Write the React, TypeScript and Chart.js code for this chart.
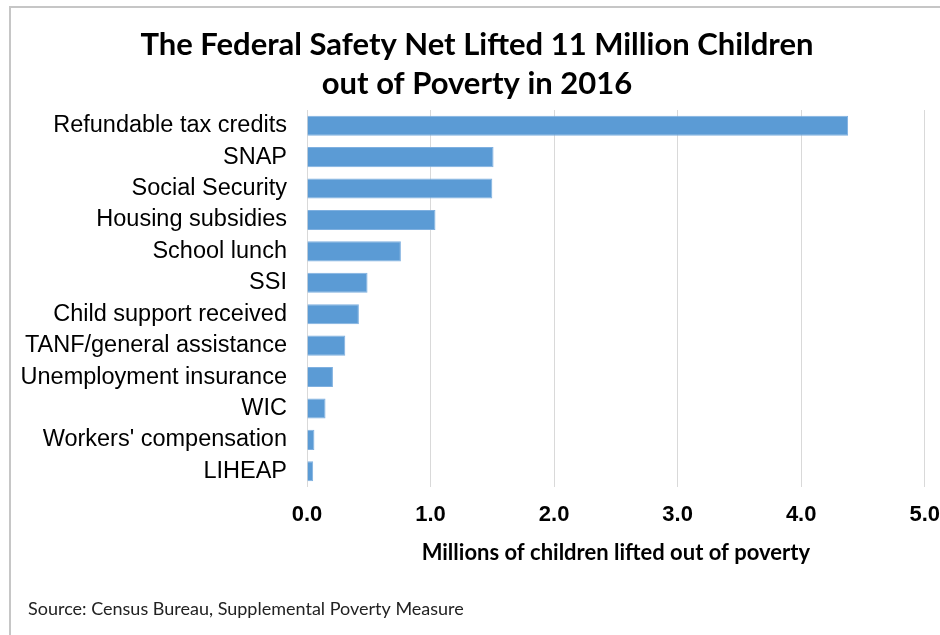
import React, { useEffect, useRef } from "react";
import { Chart, registerables } from "chart.js";

Chart.register(...registerables);

const titleLines = ["The Federal Safety Net Lifted 11 Million Children", "out of Poverty in 2016"];
const programs = [
  "Refundable tax credits",
  "SNAP",
  "Social Security",
  "Housing subsidies",
  "School lunch",
  "SSI",
  "Child support received",
  "TANF/general assistance",
  "Unemployment insurance",
  "WIC",
  "Workers' compensation",
  "LIHEAP",
];
const childrenLifted = [4.38, 1.51, 1.5, 1.04, 0.76, 0.49, 0.42, 0.31, 0.21, 0.15, 0.06, 0.05];
const xTicks = [0, 1, 2, 3, 4, 5];
const axisTitle = "Millions of children lifted out of poverty";
const sourceNote = "Source: Census Bureau, Supplemental Poverty Measure";

const decorPlugin = {
  id: "decor",
  beforeDraw(chart: any) {
    const ctx = chart.ctx;
    ctx.save();
    ctx.fillStyle = "#ffffff";
    ctx.fillRect(0, 0, chart.width, chart.height);
    ctx.strokeStyle = "#c6c6c6";
    ctx.lineWidth = 2;
    ctx.beginPath();
    ctx.moveTo(10, 640);
    ctx.lineTo(10, 7);
    ctx.lineTo(chart.width, 7);
    ctx.stroke();
    ctx.restore();
  },
  afterDraw(chart: any) {
    const ctx = chart.ctx;
    ctx.save();
    ctx.fillStyle = "#000000";
    ctx.textAlign = "center";
    ctx.textBaseline = "middle";
    ctx.font = "bold 31px Lato";
    titleLines.forEach((t, i) => ctx.fillText(t, 477, 45 + i * 39));
    ctx.textAlign = "left";
    ctx.font = "18px Lato";
    ctx.fillStyle = "#222222";
    ctx.fillText(sourceNote, 28, 609);
    ctx.restore();
  },
};

export default function App() {
  const ref = useRef<HTMLCanvasElement>(null);
  useEffect(() => {
    document.body.style.margin = "0";
    const chart = new Chart(ref.current!, {
      type: "bar",
      data: {
        labels: programs,
        datasets: [
          {
            data: childrenLifted,
            backgroundColor: "#5b9bd5",
            borderColor: "#7fb0e0",
            borderWidth: 1,
            barPercentage: 0.64,
            categoryPercentage: 1,
          },
        ],
      },
      options: {
        indexAxis: "y",
        responsive: false,
        animation: false,
        devicePixelRatio: 1,
        layout: { padding: { top: 110, left: 0, right: 30, bottom: 38 } },
        plugins: { legend: { display: false }, tooltip: { enabled: false } },
        scales: {
          x: {
            min: 0,
            max: 5,
            afterBuildTicks: (s: any) => {
              s.ticks = xTicks.map((v) => ({ value: v }));
            },
            afterFit: (s: any) => {
              s.height = 110;
            },
            grid: { color: "#d9d9d9", drawTicks: false, lineWidth: 1 },
            border: { display: false },
            ticks: {
              color: "#000000",
              padding: 15,
              maxRotation: 0,
              font: { family: "Liberation Sans", size: 22, weight: "bold" },
              callback: (v: any) => Number(v).toFixed(1),
            },
            title: {
              display: true,
              text: axisTitle,
              color: "#000000",
              font: { family: "Lato", size: 22, weight: "bold" },
              padding: { top: 0, bottom: 31 },
            },
          },
          y: {
            afterFit: (s: any) => {
              s.width = 307;
            },
            grid: { display: false, drawTicks: false },
            border: { display: false },
            ticks: {
              color: "#000000",
              padding: 20,
              autoSkip: false,
              font: { family: "Liberation Sans", size: 23.5 },
            },
          },
        },
      },
      plugins: [decorPlugin],
    });
    return () => chart.destroy();
  }, []);
  return (
    <div style={{ position: "fixed", left: 0, top: 0, width: 940, height: 635, overflow: "hidden", background: "#fff" }}>
      <canvas ref={ref} width={955} height={635} style={{ display: "block", width: 955, height: 635 }} />
    </div>
  );
}
